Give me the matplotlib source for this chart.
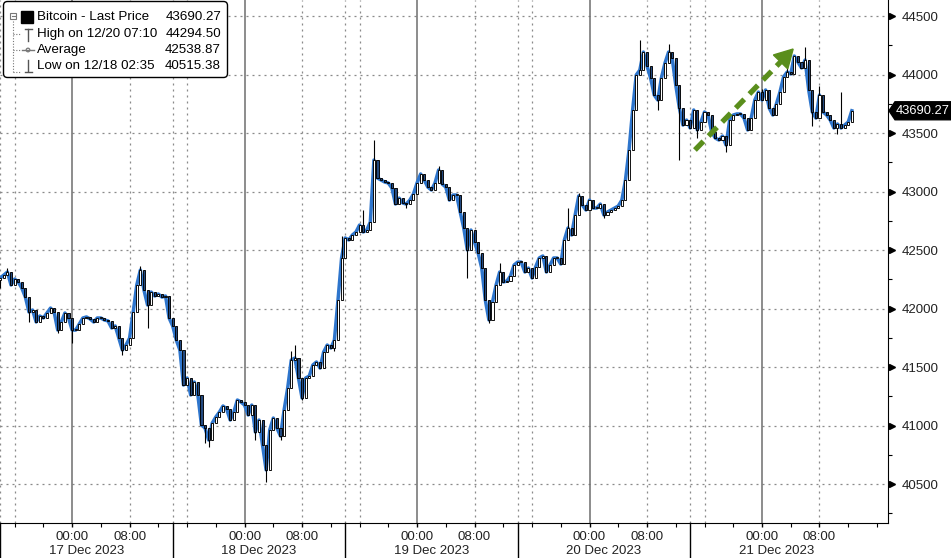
import numpy as np
import pandas as pd
import matplotlib
matplotlib.use("Agg")
import matplotlib.pyplot as plt
import matplotlib.dates as mdates
from matplotlib.patches import FancyBboxPatch, Polygon, Rectangle, Circle
from matplotlib.transforms import blended_transform_factory
from matplotlib.ticker import FixedLocator, NullFormatter

plt.rcParams["font.family"] = ["Liberation Sans", "DejaVu Sans"]

# ---------------- data (30-minute bars, Bitcoin last price) ----------------
start_time = "2023-12-16 14:00"
bar_minutes = 30
first_open = 42240
closes = [
    42261, 42286, 42312, 42201, 42252, 42227, 42175, 42098, 41970, 41987,
    41885, 41936, 41919, 41962, 42004, 41970, 41816, 41885, 41962, 41919,
    41816, 41816, 41868, 41919, 41928, 41911, 41885, 41919, 41919, 41902,
    41894, 41834, 41851, 41748, 41645, 41688, 41748, 41970, 42201, 42329,
    42158, 42030, 42141, 42107, 42124, 42098, 42107, 41919, 41851, 41731,
    41645, 41346, 41406, 41261, 41372, 41261, 41004, 40979, 40876, 41021,
    41073, 41115, 41167, 41141, 41047, 41115, 41218, 41201, 41175, 41090,
    41175, 40944, 41047, 40833, 40620, 40962, 41064, 40979, 40910, 41133,
    41321, 41560, 41577, 41406, 41235, 41406, 41423, 41517, 41543, 41491,
    41628, 41688, 41662, 41731, 42073, 42432, 42603, 42586, 42628, 42654,
    42714, 42654, 42671, 42739, 43269, 43115, 43098, 43081, 43073, 43030,
    42893, 42944, 42902, 42893, 42927, 42979, 43073, 43150, 43098, 43038,
    43013, 43073, 43184, 43064, 43038, 42927, 42970, 42970, 42825, 42688,
    42500, 42671, 42568, 42474, 42346, 42073, 41902, 42056, 42201, 42312,
    42227, 42235, 42278, 42372, 42397, 42397, 42312, 42346, 42261, 42355,
    42432, 42449, 42312, 42372, 42432, 42432, 42380, 42585, 42688, 42628,
    42799, 42962, 42885, 42842, 42927, 42859, 42859, 42893, 42799, 42825,
    42842, 42859, 42876, 42927, 43098, 43355, 43697, 43996, 44038, 44192,
    44073, 43970, 43825, 43782, 43970, 44098, 44192, 44141, 43910, 43714,
    43568, 43611, 43543, 43697, 43526, 43594, 43680, 43654, 43509, 43457,
    43440, 43474, 43397, 43611, 43654, 43663, 43663, 43628, 43526, 43628,
    43782, 43850, 43782, 43868, 43714, 43654, 43748, 43850, 43979, 44021,
    44004, 44158, 44107, 44056, 44124, 43868, 43680, 43628, 43825, 43680,
    43654, 43611, 43543, 43577, 43543, 43568, 43594, 43690.27,
]
# notable wick extremes (bar index -> price)
wick_highs = {2: 42345, 39: 42363, 81: 41640, 82: 41688, 95: 42620, 101: 42842,
              104: 43440, 122: 43215, 139: 42390, 158: 42860, 161: 42990,
              178: 44294.50, 186: 44260, 212: 43880, 219: 44060, 224: 44235,
              228: 43900, 234: 43850}
wick_lows = {0: 42175, 8: 41885, 16: 41790, 20: 41705, 34: 41603, 41: 41833,
             57: 40850, 58: 40816, 71: 40876, 74: 40515.38, 78: 40880,
             84: 41220, 93: 41640, 113: 42859, 130: 42261, 136: 41876,
             168: 42773, 183: 43697, 189: 43270, 194: 43460, 202: 43338,
             226: 43560, 233: 43490}

y_ticks = [40500, 41000, 41500, 42000, 42500, 43000, 43500, 44000, 44500]
day_dates = ["2023-12-17", "2023-12-18", "2023-12-19", "2023-12-20", "2023-12-21"]
date_labels = ["17 Dec 2023", "18 Dec 2023", "19 Dec 2023", "20 Dec 2023", "21 Dec 2023"]
hour_labels = ["00:00", "08:00"]
separator_days = ["2023-12-16", "2023-12-17", "2023-12-18", "2023-12-19", "2023-12-20"]

legend_names = ["Bitcoin - Last Price", "High on 12/20 07:10", "Average", "Low on 12/18 02:35"]
legend_values = ["43690.27", "44294.50", "42538.87", "40515.38"]
last_price = 43690.27

arrow_from = ("2023-12-20 14:40", 43355)
arrow_to = ("2023-12-21 04:20", 44218)

# ---------------- figure ----------------
W, H = 951, 558
fig = plt.figure(figsize=(W / 100, H / 100), dpi=100)
fig.patch.set_facecolor("white")
ax = fig.add_axes([0, 35 / H, 888 / W, 523 / H])
ax.set_facecolor("white")

times = pd.date_range(start_time, periods=len(closes), freq=f"{bar_minutes}min")
x = mdates.date2num(times)
c = np.array(closes, dtype=float)
o = np.concatenate([[first_open], c[:-1]])
hi = np.maximum(o, c)
lo = np.minimum(o, c)
for k, v in wick_highs.items():
    hi[k] = max(hi[k], v)
for k, v in wick_lows.items():
    lo[k] = min(lo[k], v)

ax.set_xlim(mdates.date2num(pd.Timestamp("2023-12-16 13:58")),
            mdates.date2num(pd.Timestamp("2023-12-21 17:32")))
ax.set_ylim(40167, 44637)

grid_col = "#8a8a8a"
dot = (0, (1.6, 3.2))
for yv in y_ticks:
    ax.axhline(yv, color=grid_col, lw=0.9, ls=dot, zorder=0)

vtimes_dotted = []
for d in separator_days:
    vtimes_dotted.append(pd.Timestamp(d + " 14:00"))
vtimes_dotted.append(pd.Timestamp("2023-12-16 16:00"))
for d in day_dates:
    vtimes_dotted.append(pd.Timestamp(d + " 08:00"))
    if d != "2023-12-21":
        vtimes_dotted.append(pd.Timestamp(d + " 16:00"))
for t in vtimes_dotted:
    ax.axvline(mdates.date2num(t), color=grid_col, lw=0.9, ls=dot, zorder=0)
for d in day_dates:
    ax.axvline(mdates.date2num(pd.Timestamp(d)), color="#6e6e6e", lw=1.1, zorder=0)

# blue last price line
ax.plot(x, c, color="#2e75cc", lw=2.5, zorder=2, solid_joinstyle="round")

# candles
bw = bar_minutes / 1440 * 0.58
ax.vlines(x, lo, hi, color="black", lw=0.8, zorder=3)
up = c >= o
body_lo = np.minimum(o, c)
body_h = np.maximum(np.abs(c - o), 6)
ax.bar(x[up], body_h[up], bottom=body_lo[up], width=bw, color="white",
       edgecolor="black", linewidth=0.65, zorder=4)
ax.bar(x[~up], body_h[~up], bottom=body_lo[~up], width=bw, color="#23497f",
       edgecolor="black", linewidth=0.65, zorder=4)

# axes styling
for s in ["top", "left"]:
    ax.spines[s].set_visible(False)
ax.spines["right"].set_color("black")
ax.spines["bottom"].set_color("black")

ax.yaxis.tick_right()
ax.yaxis.set_major_locator(FixedLocator(y_ticks))
ax.yaxis.set_minor_locator(FixedLocator([v + 250 for v in y_ticks[:-1]] + [40250]))
ax.tick_params(axis="y", which="major", length=0, pad=10, labelsize=9.5, labelcolor="#222222")
ax.tick_params(axis="y", which="minor", length=3, direction="out", width=0.8)
ax.set_yticklabels([str(v) for v in y_ticks])
tr_y = blended_transform_factory(ax.transAxes, ax.transData)
ax.plot([1.0045] * len(y_ticks), y_ticks, marker=">", ms=5, color="black",
        ls="none", transform=tr_y, clip_on=False, zorder=5)

xt = []
xl = []
for d in day_dates:
    for hl in hour_labels:
        xt.append(mdates.date2num(pd.Timestamp(d + " " + hl)))
        xl.append(hl)
ax.set_xticks(xt)
ax.set_xticklabels(xl)
ax.xaxis.set_minor_locator(mdates.HourLocator(byhour=[0, 4, 8, 12, 16, 20]))
ax.xaxis.set_minor_formatter(NullFormatter())
ax.tick_params(axis="x", which="major", length=3, width=1.0, pad=2.5,
               labelsize=9.5, labelcolor="#222222")
ax.tick_params(axis="x", which="minor", length=3, width=0.8)

tr_x = blended_transform_factory(ax.transData, ax.transAxes)
for d, lab in zip(day_dates, date_labels):
    ax.text(mdates.date2num(pd.Timestamp(d + " 02:00")), -0.054, lab,
            transform=tr_x, ha="center", va="center", fontsize=9.5, color="#222222")
for d in separator_days:
    xs = mdates.date2num(pd.Timestamp(d + " 14:00"))
    ax.plot([xs, xs], [0, -0.07], color="black", lw=1.0, transform=tr_x, clip_on=False)

# ---------------- overlay in pixel coordinates ----------------
lax = fig.add_axes([0, 0, 1, 1], zorder=10)
lax.set_xlim(0, W)
lax.set_ylim(H, 0)
lax.axis("off")
lax.patch.set_alpha(0)


def to_px(xv, yv):
    dx, dy = ax.transData.transform((xv, yv))
    return dx, H - dy


# price tag
_, yp = to_px(x[-1], last_price)
tag = Polygon([(889, yp), (895, yp - 9), (951, yp - 9), (951, yp + 9), (895, yp + 9)],
              closed=True, fc="black", ec="black")
lax.add_patch(tag)
lax.text(895.5, yp + 0.5, f"{last_price:.2f}", color="white", fontsize=9.3, va="center", ha="left")

# green dashed arrow
x0, y0 = to_px(mdates.date2num(pd.Timestamp(arrow_from[0])), arrow_from[1])
x1, y1 = to_px(mdates.date2num(pd.Timestamp(arrow_to[0])), arrow_to[1])
L = np.hypot(x1 - x0, y1 - y0)
ux, uy = (x1 - x0) / L, (y1 - y0) / L
hl_, hw_ = 18, 10
bx, by = x1 - ux * hl_, y1 - uy * hl_
green = "#5a8e1c"
lax.plot([x0, bx + ux * 2], [y0, by + uy * 2], color=green, lw=3.8,
         ls=(0, (2.3, 1.4)), solid_capstyle="butt", dash_capstyle="butt")
head = Polygon([(x1, y1), (bx - uy * hw_, by + ux * hw_), (bx + uy * hw_, by - ux * hw_)],
               closed=True, fc=green, ec=green)
lax.add_patch(head)

# legend
box = FancyBboxPatch((3.5, 1.5), 224, 76, boxstyle="round,pad=0,rounding_size=4",
                     fc="white", ec="black", lw=1.0)
lax.add_patch(box)
rows_y = [17, 34, 50, 66]
for name, val, yy in zip(legend_names, legend_values, rows_y):
    lax.text(37, yy, name, fontsize=9.6, va="center", ha="left", color="black")
    lax.text(221, yy, val, fontsize=9.6, va="center", ha="right", color="black")
tree_col = "#777777"
lax.plot([13, 13], [21, 72], color=tree_col, lw=0.8, ls=(0, (1, 1.5)))
for yy in [34, 50, 72]:
    lax.plot([13, 21], [yy, yy], color=tree_col, lw=0.8, ls=(0, (1, 1.5)))
lax.add_patch(Rectangle((10, 13), 6, 6, fc="white", ec=tree_col, lw=0.8))
lax.plot([11.5, 14.5], [16, 16], color=tree_col, lw=0.8)
lax.add_patch(Rectangle((21, 11), 12, 12, fc="black", ec="black"))
# high icon
lax.plot([28, 28], [29, 41], color="#555555", lw=1.0)
lax.plot([24.5, 31.5], [28.5, 28.5], color="#555555", lw=1.0)
# average icon
lax.plot([22, 34], [50, 50], color="#777777", lw=1.0)
lax.add_patch(Circle((28, 50), 1.8, fc="white", ec="#777777", lw=0.9))
# low icon
lax.plot([28, 28], [60, 71], color="#555555", lw=1.0)
lax.plot([24.5, 31.5], [71.5, 71.5], color="#555555", lw=1.0)

fig.savefig("out.png", dpi=100, facecolor="white")
